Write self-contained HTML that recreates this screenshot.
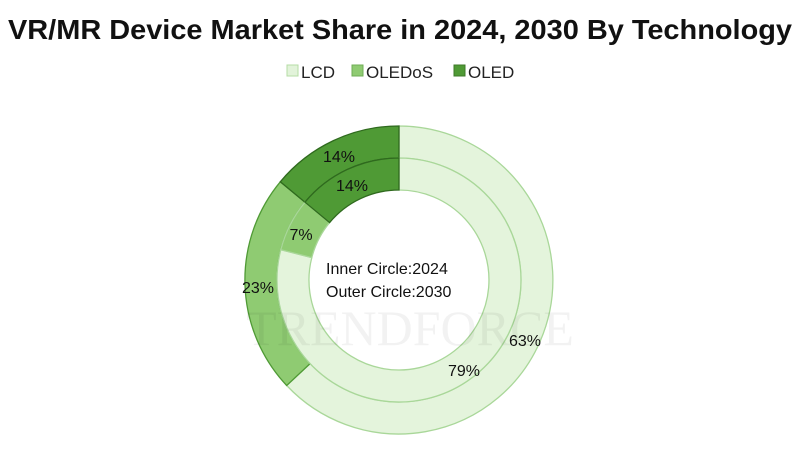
<!DOCTYPE html>
<html><head><style>
body{margin:0;background:#fff;}
svg{display:block;font-family:"Liberation Sans",sans-serif;}
</style></head><body>
<svg width="800" height="449" viewBox="0 0 800 449">
<text x="8" y="39" textLength="784" lengthAdjust="spacingAndGlyphs" font-size="28" font-weight="bold" fill="#111">VR/MR Device Market Share in 2024, 2030 By Technology</text>
<g font-size="17" fill="#222">
<rect x="287" y="65" width="11" height="11" fill="#e2f3da" stroke="#b5dca5"/>
<text x="301" y="78">LCD</text>
<rect x="352" y="65" width="11" height="11" fill="#8fcb72" stroke="#6fae55"/>
<text x="366" y="78">OLEDoS</text>
<rect x="454" y="65" width="11" height="11" fill="#4f9a35" stroke="#3d7a28"/>
<text x="468" y="78">OLED</text>
</g>
<g stroke-width="1.3">
<path d="M399,126 A154,154 0 1 1 286.7,385.5 L310.1,363.6 A122,122 0 1 0 399,158 Z" fill="#e4f4dc" stroke="#a9d799"/>
<path d="M286.7,385.5 A154,154 0 0 1 280.3,181.8 L305,202.2 A122,122 0 0 0 310.1,363.6 Z" fill="#8fcb72" stroke="#4f9a35"/>
<path d="M280.3,181.8 A154,154 0 0 1 399,126 L399,158 A122,122 0 0 0 305,202.2 Z" fill="#4f9a35" stroke="#2f6a1e"/>
<path d="M399,158 A122,122 0 1 1 280.8,249.7 L311.8,257.6 A90,90 0 1 0 399,190 Z" fill="#e4f4dc" stroke="#a9d799"/>
<path d="M280.8,249.7 A122,122 0 0 1 305,202.2 L329.6,222.6 A90,90 0 0 0 311.8,257.6 Z" fill="#8fcb72" stroke="#a9d799"/>
<path d="M305,202.2 A122,122 0 0 1 399,158 L399,190 A90,90 0 0 0 329.6,222.6 Z" fill="#4f9a35" stroke="#2f6a1e"/>
</g>
<text x="410" y="345" text-anchor="middle" font-family="Liberation Serif,serif" font-size="50" fill="#000" fill-opacity="0.05">TRENDFORCE</text>
<g font-size="16" fill="#111" text-anchor="middle">
<text x="339" y="162">14%</text>
<text x="352" y="191">14%</text>
<text x="301" y="240">7%</text>
<text x="258" y="293">23%</text>
<text x="525" y="346">63%</text>
<text x="464" y="376">79%</text>
</g>
<g font-size="16" fill="#111">
<text x="326" y="274">Inner Circle:2024</text>
<text x="326" y="297">Outer Circle:2030</text>
</g>
</svg>
</body></html>
